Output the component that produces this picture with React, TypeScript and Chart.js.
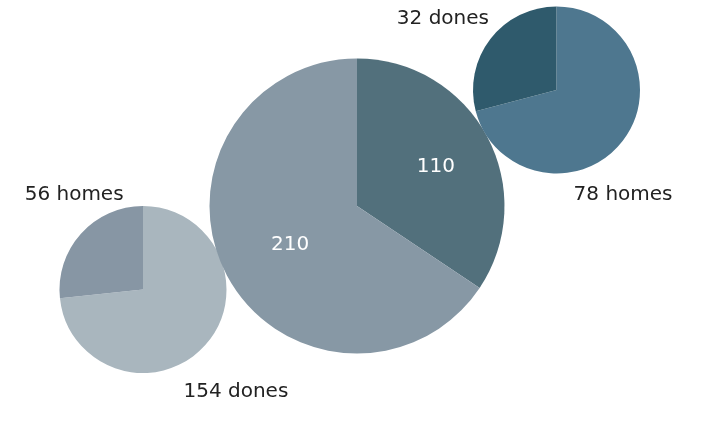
import React, { useEffect, useRef } from "react";
import { Chart, registerables } from "chart.js";

Chart.register(...registerables);

// ---- data ----
const leftCategories = ["dones", "homes"];
const leftValues = [154, 56];
const centerCategories = ["homes", "dones"];
const centerValues = [110, 210];
const rightCategories = ["homes", "dones"];
const rightValues = [78, 32];

// ---- layout / style ----
const W = 707;
const H = 430;
const FONT = '"DejaVu Sans", Verdana, sans-serif';

type LabelSpec = { mode: "inside" | "outside"; k: number; offsets: [number, number][]; text: (v: number, c: string) => string; color: string };

type PieSpec = {
  categories: string[];
  values: number[];
  colors: string[];
  cx: number;
  cy: number;
  r: number;
  label: LabelSpec;
};

const pies: PieSpec[] = [
  {
    categories: leftCategories,
    values: leftValues,
    colors: ["#a9b6be", "#8796a4"],
    cx: 143,
    cy: 289.5,
    r: 83.5,
    label: {
      mode: "outside",
      k: 1.4,
      offsets: [[6, 24], [18, -16]],
      text: (v, c) => `${v} ${c}`,
      color: "#222222",
    },
  },
  {
    categories: centerCategories,
    values: centerValues,
    colors: ["#52707c", "#8798a5"],
    cx: 357,
    cy: 206,
    r: 147.5,
    label: {
      mode: "inside",
      k: 0.56,
      offsets: [[6, 0], [6, 0]],
      text: (v) => `${v}`,
      color: "#ffffff",
    },
  },
  {
    categories: rightCategories,
    values: rightValues,
    colors: ["#4e778f", "#2f5a6c"],
    cx: 556.5,
    cy: 90,
    r: 83.5,
    label: {
      mode: "outside",
      k: 1.4,
      offsets: [[-26, 33], [-21, 0]],
      text: (v, c) => `${v} ${c}`,
      color: "#222222",
    },
  },
];

const labelPlugin = {
  id: "pieLabels",
  afterDatasetsDraw(chart: any, _args: any, opts: any) {
    const spec: LabelSpec = opts.spec;
    if (!spec) return;
    const ctx = chart.ctx;
    const meta = chart.getDatasetMeta(0);
    const data = chart.data.datasets[0].data as number[];
    const cats = chart.data.labels as string[];
    ctx.save();
    ctx.font = `20px ${FONT}`;
    ctx.fillStyle = spec.color;
    ctx.textAlign = "center";
    ctx.textBaseline = "middle";
    meta.data.forEach((arc: any, i: number) => {
      const p = arc.getProps(["x", "y", "startAngle", "endAngle", "outerRadius"], true);
      const mid = (p.startAngle + p.endAngle) / 2;
      const d = p.outerRadius * spec.k;
      const [dx, dy] = spec.offsets[i] || [0, 0];
      const x = p.x + Math.cos(mid) * d + dx;
      const y = p.y + Math.sin(mid) * d + dy;
      ctx.fillText(spec.text(data[i], cats[i]), x, y);
    });
    ctx.restore();
  },
};

function PieCanvas({ spec }: { spec: PieSpec }) {
  const ref = useRef<HTMLCanvasElement | null>(null);
  useEffect(() => {
    if (!ref.current) return;
    const chart = new Chart(ref.current, {
      type: "pie",
      data: {
        labels: spec.categories,
        datasets: [
          {
            data: spec.values,
            backgroundColor: spec.colors,
            borderWidth: 0,
            hoverOffset: 0,
          },
        ],
      },
      options: {
        responsive: false,
        animation: false,
        devicePixelRatio: 1,
        radius: spec.r,
        layout: {
          padding: {
            left: spec.cx - spec.r,
            right: W - (spec.cx + spec.r),
            top: spec.cy - spec.r,
            bottom: H - (spec.cy + spec.r),
          },
        },
        events: [],
        plugins: {
          legend: { display: false },
          tooltip: { enabled: false },
          title: { display: false },
          pieLabels: { spec: spec.label },
        } as any,
      } as any,
      plugins: [labelPlugin],
    });
    return () => chart.destroy();
  }, [spec]);
  return (
    <canvas
      ref={ref}
      width={W}
      height={H}
      style={{ position: "absolute", left: 0, top: 0, width: W, height: H }}
    />
  );
}

export default function App() {
  return (
    <div
      style={{
        position: "fixed",
        left: 0,
        top: 0,
        width: W,
        height: H,
        background: "#ffffff",
        overflow: "hidden",
      }}
    >
      {pies.map((p, i) => (
        <PieCanvas key={i} spec={p} />
      ))}
    </div>
  );
}
